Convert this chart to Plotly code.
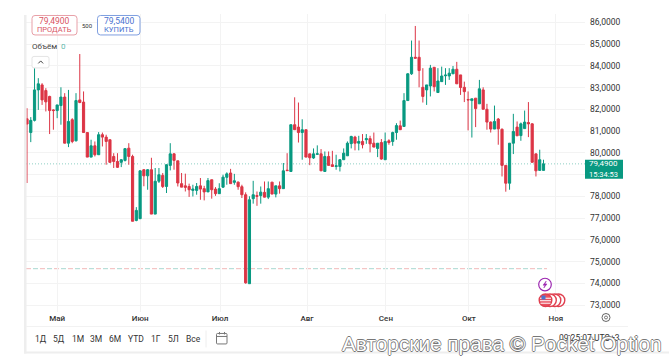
import plotly.graph_objects as go

W, H = 669, 356
L, R, T, B = 26, 585, 14, 312.5

opens = [81.56,80.93,81.49,82.89,83.12,82.86,82.59,81.97,81.94,82.17,82.56,80.44,81.52,80.55,82.43,82.33,80.93,79.80,80.32,79.91,
80.83,80.72,80.60,79.83,79.60,79.56,79.65,80.21,79.83,76.89,76.97,79.22,78.94,79.22,77.18,78.69,78.96,78.45,79.42,79.95,
79.63,78.58,78.48,78.45,78.27,78.27,78.48,78.35,78.20,78.76,78.33,78.12,78.42,78.87,79.07,78.64,78.65,78.44,78.07,73.98,
77.89,78.03,78.03,78.18,77.96,78.65,78.10,78.48,78.35,79.20,79.14,81.29,81.18,80.93,81.06,79.95,79.76,79.93,79.95,79.14,
79.83,79.45,79.37,79.37,79.68,79.86,80.42,80.72,80.44,80.52,80.60,80.65,80.44,80.20,80.47,79.68,80.55,80.52,80.93,81.24,
81.21,82.40,83.63,84.39,84.39,83.01,82.89,83.07,83.93,82.77,83.27,83.54,83.53,83.63,83.84,83.58,83.01,82.45,82.40,82.51,
82.25,82.89,82.00,81.41,81.09,81.55,81.08,79.42,78.60,80.44,81.18,80.79,81.11,81.39,81.33,79.95,79.19,79.19]
highs = [82.05,81.64,83.89,83.43,83.20,82.97,82.62,82.00,82.20,83.01,82.74,82.89,81.59,82.74,84.54,82.82,80.93,80.60,80.52,80.95,
80.93,80.83,80.60,79.98,79.98,79.71,80.21,80.44,79.91,77.50,79.20,79.25,79.25,79.77,79.30,79.30,79.07,79.47,80.44,79.98,
79.63,79.07,79.04,78.58,78.53,78.61,78.84,78.48,78.84,78.76,78.42,78.60,78.99,79.10,79.26,79.03,78.68,78.53,78.18,78.00,
78.71,78.22,78.45,78.68,78.68,78.65,78.48,78.68,79.53,79.98,81.29,82.55,82.31,81.54,81.06,79.95,80.20,80.34,80.17,80.06,
80.06,80.09,79.91,79.71,80.20,80.52,80.78,80.78,80.78,80.86,80.86,80.78,80.93,80.44,80.63,80.93,80.62,80.97,81.36,81.48,
82.74,83.66,85.16,85.83,85.16,83.89,83.12,84.04,83.93,83.89,83.96,83.89,83.89,83.99,84.18,83.58,83.27,82.82,82.48,82.51,
83.35,83.01,82.25,81.44,82.17,81.60,81.12,79.42,80.44,81.79,81.44,81.39,81.94,82.33,81.36,79.95,80.14,79.68]
lows = [78.61,80.49,81.44,81.97,82.20,81.90,80.86,81.06,81.59,81.29,80.44,80.26,80.44,80.52,82.28,80.93,79.80,79.80,79.83,79.90,
80.29,79.45,79.53,79.30,79.30,79.34,79.60,79.45,76.85,76.85,76.95,78.46,78.30,77.18,77.18,78.61,78.38,78.15,79.19,79.22,
78.45,78.42,78.22,77.97,77.99,78.07,77.84,77.81,78.20,77.89,78.02,78.12,78.38,78.53,78.58,78.53,78.30,77.92,73.98,73.98,
77.66,77.56,77.66,77.95,77.87,78.10,77.95,78.12,78.35,79.18,79.14,81.06,80.47,79.68,79.80,79.43,79.72,79.90,79.17,79.14,
79.42,79.37,79.22,79.14,79.68,79.86,80.20,80.11,80.11,80.20,80.41,80.02,80.26,79.80,79.68,79.68,80.37,80.32,80.60,81.06,
81.21,82.40,83.58,84.35,83.01,82.31,82.20,82.59,82.82,82.77,83.27,83.12,83.35,83.63,83.17,82.66,82.33,81.03,80.70,81.18,
82.25,82.00,81.06,80.93,81.09,80.37,78.91,78.21,78.30,79.94,80.78,80.55,81.11,80.72,79.56,78.91,79.19,79.19]
closes = [81.32,81.49,82.89,83.17,82.43,82.34,81.94,81.94,82.20,82.56,80.44,81.44,80.52,82.40,82.31,80.93,79.80,80.32,79.91,80.83,
80.72,80.52,79.56,79.60,79.33,79.68,80.19,79.83,76.85,77.35,79.17,78.94,79.22,77.18,78.69,78.99,78.45,79.45,79.95,79.65,
78.61,78.42,78.41,78.30,78.33,78.45,78.33,78.20,78.72,78.30,78.12,78.35,78.88,79.03,78.58,78.71,78.44,78.07,74.02,77.84,
78.07,78.00,78.19,77.96,78.35,78.10,78.48,78.35,79.17,79.18,81.29,81.06,80.93,81.06,79.80,79.77,79.95,79.95,79.17,79.83,
79.42,79.37,79.40,79.68,79.98,80.44,80.75,80.44,80.52,80.37,80.65,80.41,80.26,80.44,79.71,80.52,80.47,80.93,81.25,81.06,
82.40,83.63,84.39,84.35,83.78,82.59,83.12,83.89,83.04,83.30,83.53,83.57,83.66,83.84,83.17,83.00,82.81,82.43,82.48,82.03,
82.94,82.00,81.41,81.09,81.44,81.10,79.42,78.60,80.44,80.98,80.78,81.33,81.41,81.33,79.56,79.17,79.68,79.49]

price_ticks = [73, 74, 75, 76, 77, 78, 79, 80, 81, 82, 83, 84, 85, 86]
price_labels = ["73,0000","74,0000","75,0000","76,0000","77,0000","78,0000","79,0000","80,0000","81,0000","82,0000","83,0000","84,0000","85,0000","86,0000"]
month_ticks = [8.0, 30.0, 51.2, 74.3, 95.2, 117.2, 140.3]
month_labels = ["Май","Июн","Июл","Авг","Сен","Окт","Ноя"]
ranges = ["1Д","5Д","1М","3М","6М","YTD","1Г","5Л","Все"]
last_price = 79.49
level_price = 74.67

UP, DOWN = "#089981", "#dc3545"
FONT = "Roboto, Liberation Sans, sans-serif"

# paper coordinates are relative to the plot area
def fx(p): return (p - L) / (R - L)
def fy(p): return (B - p) / (B - T)

fig = go.Figure(go.Candlestick(
    x=list(range(len(opens))), open=opens, high=highs, low=lows, close=closes,
    increasing=dict(line=dict(color=UP, width=1), fillcolor=UP),
    decreasing=dict(line=dict(color=DOWN, width=1), fillcolor=DOWN),
    whiskerwidth=0, hoverinfo="skip", showlegend=False))

shapes, notes = [], []

def rect(x0, y0, x1, y1, fill="rgba(0,0,0,0)", line=None, lw=1):
    shapes.append(dict(type="rect", xref="paper", yref="paper", layer="above",
                       x0=fx(x0), x1=fx(x1), y0=fy(y0), y1=fy(y1), fillcolor=fill,
                       line=dict(color=line or "rgba(0,0,0,0)", width=lw if line else 0)))

def rrect(x0, y0, x1, y1, r, color, fill="white"):
    X0, X1, Y0, Y1 = fx(x0), fx(x1), fy(y0), fy(y1)
    rx, ry = r / (R - L), r / (B - T)
    path = (f"M{X0+rx},{Y0} L{X1-rx},{Y0} Q{X1},{Y0} {X1},{Y0-ry} L{X1},{Y1+ry} Q{X1},{Y1} {X1-rx},{Y1} "
            f"L{X0+rx},{Y1} Q{X0},{Y1} {X0},{Y1+ry} L{X0},{Y0-ry} Q{X0},{Y0} {X0+rx},{Y0} Z")
    shapes.append(dict(type="path", xref="paper", yref="paper", path=path, layer="above",
                       fillcolor=fill, line=dict(color=color, width=1)))

def poly(points, color, fill="rgba(0,0,0,0)", lw=1, close=False):
    d = " ".join(("M" if i == 0 else "L") + f"{fx(x)},{fy(y)}" for i, (x, y) in enumerate(points))
    shapes.append(dict(type="path", xref="paper", yref="paper", layer="above",
                       path=d + (" Z" if close else ""), fillcolor=fill, line=dict(color=color, width=lw)))

def circle(cx, cy, r, line, fill="white", lw=1.2):
    shapes.append(dict(type="circle", xref="paper", yref="paper", layer="above",
                       x0=fx(cx-r), x1=fx(cx+r), y0=fy(cy-r), y1=fy(cy+r),
                       fillcolor=fill, line=dict(color=line, width=lw)))

def seg(x0, y0, x1, y1, color, w=1, dash=None):
    shapes.append(dict(type="line", xref="paper", yref="paper", layer="above",
                       x0=fx(x0), x1=fx(x1), y0=fy(y0), y1=fy(y1),
                       line=dict(color=color, width=w, dash=dash or "solid")))

def text(x, y, s, size=8, color="#333", anchor="center", **kw):
    font = dict(size=size, color=color, family=kw.pop("family", FONT))
    font.update(kw)
    notes.append(dict(xref="paper", yref="paper", x=fx(x), y=fy(y), text=s, showarrow=False,
                      xanchor=anchor, yanchor="middle", font=font, borderpad=0, borderwidth=0))

rect(24, 15, 26.5, 354, fill="#eeeeee")
rect(24, 352, 669, 354, fill="#eeeeee")
seg(26, 327, 628, 327, "#f2f2f2")
seg(206, 331, 206, 348, "#eeeeee")

shapes.append(dict(type="line", xref="paper", yref="y", x0=fx(L), x1=fx(R), y0=last_price, y1=last_price,
                   line=dict(color="#8fcfc4", width=1, dash="1px,2px"), layer="below"))
shapes.append(dict(type="line", xref="paper", yref="y", x0=fx(L), x1=fx(547), y0=level_price, y1=level_price,
                   line=dict(color="#f2b8b8", width=1, dash="5px,9px"), layer="below"))
shapes.append(dict(type="line", xref="paper", yref="y", x0=fx(L + 7), x1=fx(547), y0=level_price, y1=level_price,
                   line=dict(color="#a8d8d0", width=1, dash="5px,9px"), layer="below"))

rrect(32, 15.5, 77, 35, 3, "#e8a0a8")
rrect(97.5, 15.5, 140, 35, 3, "#7f9fe0")
text(54.5, 21, "79,4900", 8.5, "#d9535f")
text(54.5, 30, "ПРОДАТЬ", 7.5, "#d9535f")
text(87, 25.5, "500", 6, "#333")
text(119, 21, "79,5400", 8.5, "#4a72d0")
text(119, 30, "КУПИТЬ", 7.5, "#4a72d0")
text(32, 47, "Объём", 8, "#444", anchor="left")
text(63.5, 47, "0", 8, "#5fb8ab")
rrect(32, 56.5, 49, 68, 2, "#e4e4e4")
poly([(38.3, 63.5), (40.7, 61), (43.1, 63.5)], "#444", lw=1)

rect(585, 160, 623, 179, fill=UP)
text(604, 164, "79,4900", 8, "white")
text(604, 174.5, "15:34:53", 7.5, "white")

circle(545, 285, 6.3, "#9c27b0")
poly([(546.2, 281.5), (543, 285.6), (545, 285.6), (543.8, 288.5), (547, 284.4), (545, 284.4)], "#9c27b0",
     fill="#9c27b0", lw=0.5, close=True)
for cx in (558.5, 554.5, 550):
    circle(cx, 300.7, 6.3, "#e04050", lw=1.4)
circle(545.5, 300.7, 6.3, "#e04050", fill="#e8505f", lw=1.4)
seg(540, 298.7, 551, 298.7, "white", 1)
seg(540, 301.2, 551, 301.2, "white", 1)
seg(540.5, 303.7, 550.5, 303.7, "white", 1)
rect(541.5, 296, 545.5, 300, fill="#4a72d0")

circle(606, 318, 4, "#555", lw=0.9)
circle(606, 318, 1.5, "#555", lw=0.8)

for label, cx in zip(ranges, [41, 58.5, 77.5, 96, 114.5, 135.5, 156, 173, 193]):
    text(cx, 340, label, 8.5, "#333")

rrect(216.5, 334, 227, 344.5, 1, "#777")
seg(216.5, 337, 227, 337, "#777")
seg(219.5, 332.5, 219.5, 335, "#777")
seg(224.5, 332.5, 224.5, 335, "#777")

text(620, 339, "09:25:07 UTC+3", 8.5, "#333", anchor="right")
text(502, 344, "Авторские права © Pocket Option", 20.8, "white", family="Liberation Sans, sans-serif",
     shadow="0.8px 0 0 #777, -0.8px 0 0 #777, 0 0.8px 0 #777, 0 -0.8px 0 #777")

PX_PER_I = 3.77
x_lo = (L - 27) / PX_PER_I
x_hi = (R - 27) / PX_PER_I
Y_AT = lambda y: 80 + (153 - y) * 0.0459

fig.update_layout(
    width=W, height=H, autosize=False, paper_bgcolor="white", plot_bgcolor="white",
    margin=dict(l=L, r=W - R, t=T, b=H - B), boxmode="group", boxgap=0.42, boxgroupgap=0,
    font=dict(family=FONT, color="#333"), showlegend=False, shapes=shapes, annotations=notes,
    xaxis=dict(range=[x_lo, x_hi], tickmode="array", tickvals=month_ticks, ticktext=month_labels,
               showgrid=True, gridcolor="#f3f3f3", gridwidth=1, zeroline=False, showline=False, ticks="",
               rangeslider=dict(visible=False), tickfont=dict(size=8, color="#333", family=FONT, weight=500)),
    yaxis=dict(side="right", range=[Y_AT(B), Y_AT(T)], tickmode="array", tickvals=price_ticks, ticktext=price_labels,
               showgrid=True, gridcolor="#f3f3f3", gridwidth=1, zeroline=False, showline=False, ticks="",
               tickfont=dict(size=8.5, color="#333", family=FONT), ticklabelstandoff=4),
)
fig.write_html("out.html", config=dict(displayModeBar=False),
               post_script="document.body.style.margin='0';document.documentElement.style.overflow='hidden';")
